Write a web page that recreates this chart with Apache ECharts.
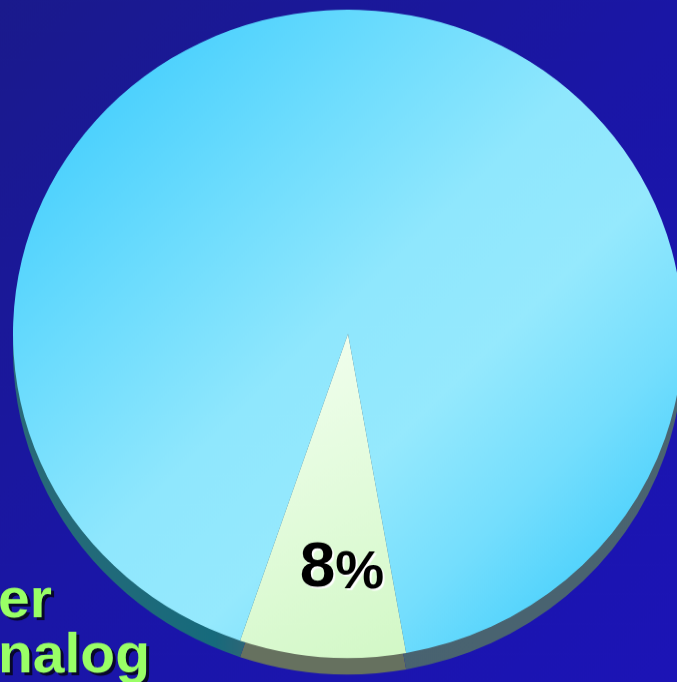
<!DOCTYPE html>
<html>
<head>
<meta charset="utf-8">
<script src="https://cdn.jsdelivr.net/npm/echarts@6/dist/echarts.min.js"></script>
<style>
  html, body { margin: 0; padding: 0; background: #19188c; overflow: hidden; }
  /* the pie in the picture is seen slightly from above, so squash it a little */
  #chart { width: 677px; height: 705px; transform: scaleY(0.9674); transform-origin: 0 0; }
</style>
</head>
<body>
<div id="chart"></div>
<script>
// slice names and values (percent)
var categories = ['Share', 'Rest'];
var values = [8, 92];
// cut-off label text at the lower left
var sideText = ['er', 'nalog'];

var myChart = echarts.init(document.getElementById('chart'));

var data = [];
for (var i = 0; i < categories.length; i++) {
  data.push({ name: categories[i], value: values[i] });
}

// face colours
var faceColors = [
  new echarts.graphic.LinearGradient(0, 0, 1, 1, [
    { offset: 0, color: '#f4fff2' },
    { offset: 1, color: '#d2f8c6' }
  ]),
  new echarts.graphic.LinearGradient(0, 0, 1, 1, [
    { offset: 0.08, color: '#40cdfd' },
    { offset: 0.3, color: '#6cdcfd' },
    { offset: 0.48, color: '#8fe7fd' },
    { offset: 0.62, color: '#95e9fd' },
    { offset: 0.76, color: '#74defd' },
    { offset: 0.92, color: '#40cdfc' }
  ])
];
// side (depth) colours
var sideColors = [
  '#66715f',
  new echarts.graphic.LinearGradient(0, 0, 1, 0, [
    { offset: 0, color: '#2a6a78' },
    { offset: 0.3, color: '#166a7c' },
    { offset: 0.4, color: '#486270' },
    { offset: 1, color: '#4a6470' }
  ])
];

var font = 'bold 57px "Liberation Sans", Arial, sans-serif';
var textPos = [[-2, 594], [-2, 651]];
var graphics = [];
for (var k = 0; k < sideText.length; k++) {
  // dark drop shadow, then the green text
  graphics.push({
    type: 'text', left: textPos[k][0] + 3, top: textPos[k][1] + 3,
    style: { text: sideText[k], fill: '#08082a', font: font }
  });
  graphics.push({
    type: 'text', left: textPos[k][0], top: textPos[k][1],
    style: { text: sideText[k], fill: '#99ff66', font: font }
  });
}

myChart.setOption({
  backgroundColor: new echarts.graphic.LinearGradient(0, 0, 1, 1, [
    { offset: 0, color: '#1a1a8c' },
    { offset: 0.5, color: '#1a16a6' },
    { offset: 1, color: '#1c14b6' }
  ]),
  animation: false,
  graphic: graphics,
  series: [
    {
      // depth of the pie
      type: 'pie',
      silent: true,
      center: [348, 362],
      radius: [0, 335],
      startAngle: 280,
      label: { show: false },
      labelLine: { show: false },
      itemStyle: {
        borderWidth: 0,
        color: function (p) { return sideColors[p.dataIndex]; }
      },
      data: data
    },
    {
      type: 'pie',
      silent: true,
      center: [348, 345],
      radius: [0, 335],
      startAngle: 280,
      itemStyle: {
        borderWidth: 0,
        color: function (p) { return faceColors[p.dataIndex]; }
      },
      label: {
        show: true,
        position: 'inside',
        formatter: function (p) {
          if (p.dataIndex !== 0) return '';
          return '{n|' + p.value + '}{p|%}';
        },
        rich: {
          n: {
            fontSize: 64,
            fontWeight: 'bold',
            fontFamily: '"Liberation Sans", Arial, sans-serif',
            color: '#000',
            textShadowColor: '#ffffff',
            textShadowOffsetX: 2,
            textShadowOffsetY: 2,
            textShadowBlur: 1,
            verticalAlign: 'bottom',
            lineHeight: 64
          },
          p: {
            fontSize: 55,
            fontWeight: 'bold',
            fontFamily: '"Liberation Sans", Arial, sans-serif',
            color: '#000',
            textShadowColor: '#ffffff',
            textShadowOffsetX: 2,
            textShadowOffsetY: 2,
            textShadowBlur: 1,
            verticalAlign: 'bottom',
            lineHeight: 64
          }
        }
      },
      labelLayout: function (p) {
        if (p.dataIndex === 0) return { dx: 7, dy: 73 };
      },
      labelLine: { show: false },
      data: data
    }
  ]
});
</script>
</body>
</html>
